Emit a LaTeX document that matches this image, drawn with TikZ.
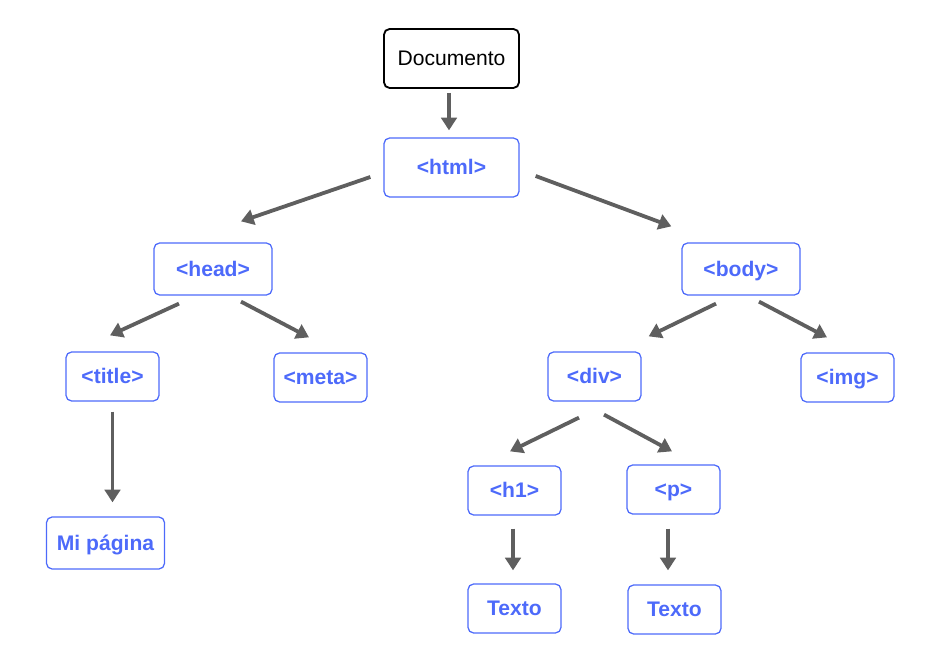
\documentclass[tikz,border=0pt]{standalone}
\usepackage{fontspec}
\setmainfont{Liberation Sans}
\usetikzlibrary{arrows.meta, calc}
\definecolor{colBlue}{RGB}{77, 106, 250}
\definecolor{colArrow}{RGB}{95, 95, 95}

\begin{document}
\begin{tikzpicture}[x=0.025cm, y=-0.025cm,
    every node/.style={font=\fontsize{15}{18}\selectfont, text height=10.6pt, text depth=0pt},
    docbox/.style={draw=black, line width=1.3pt, rounded corners=4pt,
        minimum width=3.375cm, minimum height=1.475cm, inner sep=0pt},
    tagbox/.style={draw=colBlue, line width=0.9pt, rounded corners=4pt,
        text=colBlue, font=\fontsize{15}{18}\selectfont\bfseries,
        minimum width=2.325cm, minimum height=1.225cm, inner sep=0pt},
    widebox/.style={tagbox, minimum width=2.95cm, minimum height=1.3cm},
    link/.style={draw=colArrow, line width=2.7pt, -{Triangle[length=9pt,width=11pt]}}]
    \useasboundingbox (0, 0) rectangle (927, 661);

    % --- Raiz ---
    \node[docbox] (doc) at (451.5, 58.5) {Documento};
    \node[tagbox, minimum width=3.375cm, minimum height=1.475cm] (html) at (451.5, 167.5) {<html>};

    % --- Nivel 2 ---
    \node[widebox] (head) at (213, 269) {<head>};
    \node[widebox] (body) at (741, 269) {<body>};

    % --- Nivel 3 ---
    \node[tagbox] (title) at (112.5, 376.5) {<title>};
    \node[tagbox] (meta) at (320.5, 377.5) {<meta>};
    \node[tagbox] (div) at (594.5, 376.5) {<div>};
    \node[tagbox] (img) at (847.5, 377.5) {<img>};

    % --- Nivel 4 ---
    \node[widebox] (mipag) at (105.5, 543) {Mi página};
    \node[tagbox] (h1) at (514.5, 490.5) {<h1>};
    \node[tagbox] (p) at (673.5, 489.5) {<p>};

    % --- Textos ---
    \node[tagbox] (texto1) at (514.5, 608.5) {Texto};
    \node[tagbox] (texto2) at (674.5, 609.5) {Texto};

    % --- Flechas ---
    \draw[link] ($(doc.south)+(-2.5, 4)$) -- ($(html.north)+(-2.5, -7)$);
    \draw[link] ($(html.west)+(-13, 9.5)$) -- ($(head.north)+(28, -21)$);
    \draw[link] ($(html.east)+(16, 8.5)$) -- ($(body.north west)+(-10, -16)$);

    \draw[link] ($(head.south)+(-34, 8)$) -- ($(title.north)+(-2.5, -16)$);
    \draw[link] ($(head.south)+(28, 6)$) -- ($(meta.north)+(-11.5, -15)$);
    \draw[link] ($(body.south)+(-25, 8)$) -- ($(div.north east)+(7, -15)$);
    \draw[link] ($(body.south)+(18, 6)$) -- ($(img.north)+(-20.5, -15)$);

    \draw[link] ($(title.south)+(0, 10)$) -- ($(title.south |- mipag.north)+(0, -14)$);
    \draw[link] ($(div.south)+(-15.5, 16)$) -- ($(h1.north)+(-4.5, -14)$);
    \draw[link] ($(div.south)+(9.5, 13)$) -- ($(p.north)+(-1.5, -13)$);

    \draw[link] ($(h1.south)+(-1.5, 13)$) -- ($(h1.south |- texto1.north)+(-1.5, -13)$);
    \draw[link] ($(p.south)+(-5.5, 14)$) -- ($(p.south |- texto2.north)+(-5.5, -14)$);

\end{tikzpicture}
\end{document}
